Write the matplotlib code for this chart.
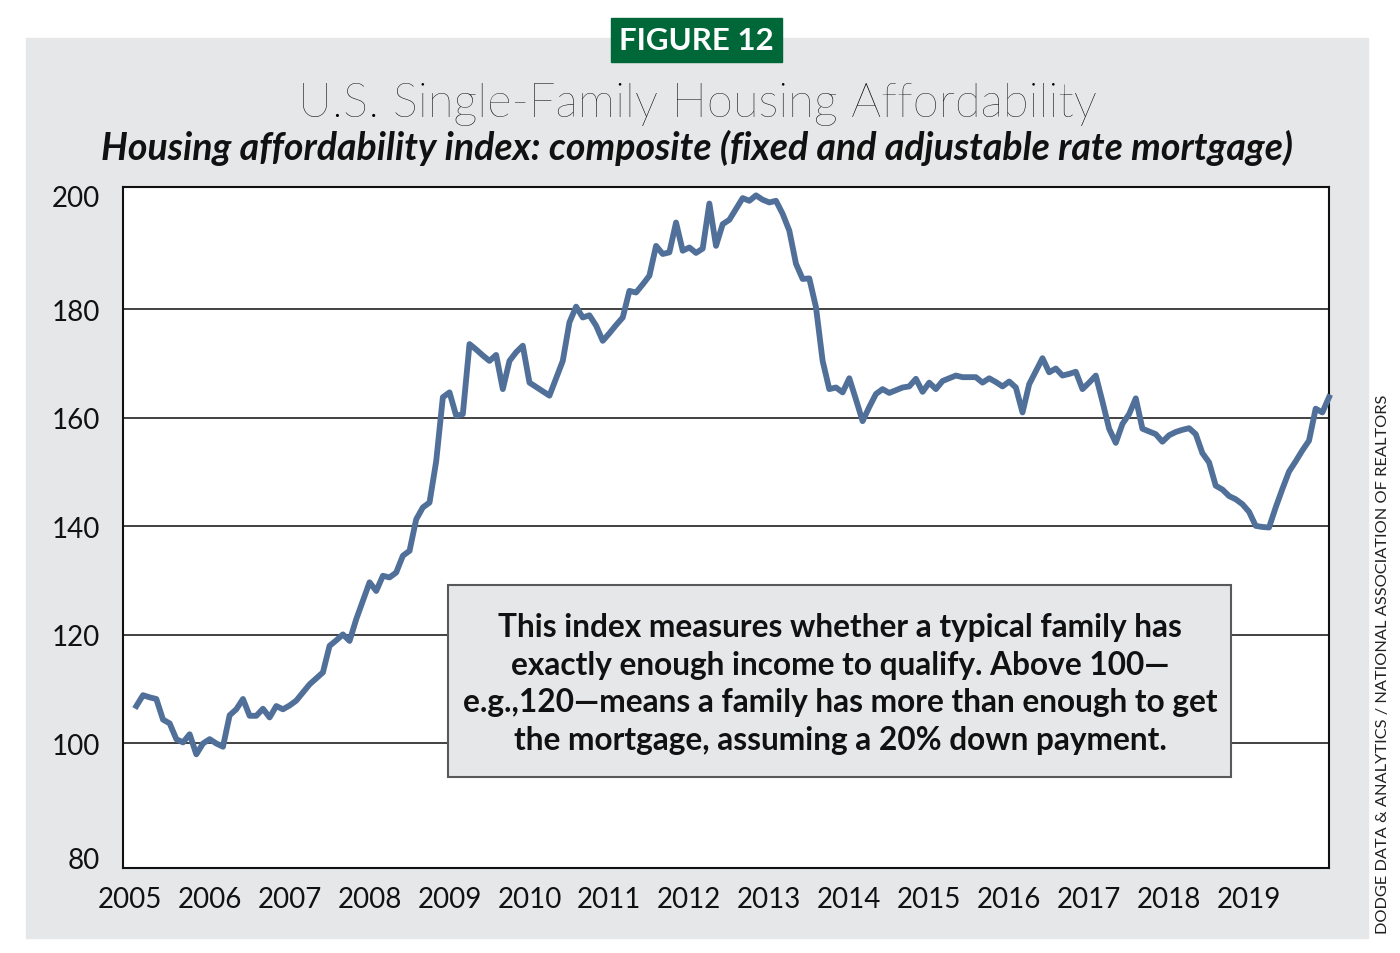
import matplotlib.pyplot as plt
import numpy as np
from matplotlib.patches import Rectangle
from matplotlib.transforms import ScaledTranslation

plt.rcParams['font.family'] = ['Lato', 'DejaVu Sans']

# housing affordability index, monthly Jan 2005 - Dec 2019
hai = [
    106.9, 108.9, 108.5, 108.2, 104.4, 103.7, 100.8, 100.2, 101.7, 98.0, 100.0, 100.8,
    100.0, 99.4, 105.2, 106.3, 108.2, 105.1, 105.1, 106.4, 104.8, 106.9, 106.3, 107.0,
    107.9, 109.4, 110.9, 112.0, 113.1, 118.0, 119.0, 120.1, 118.9, 122.9, 126.3, 129.7,
    128.1, 130.9, 130.6, 131.5, 134.6, 135.5, 141.3, 143.5, 144.4, 152.0, 163.8, 164.7,
    160.4, 160.7, 173.6, 172.6, 171.5, 170.5, 171.6, 165.3, 170.5, 172.1, 173.3, 166.5,
    165.7, 164.9, 164.1, 167.3, 170.5, 177.6, 180.5, 178.5, 178.9, 177.0, 174.2, 175.6,
    177.1, 178.5, 183.4, 183.1, 184.6, 186.2, 191.7, 190.2, 190.5, 196.0, 190.8, 191.4,
    190.4, 191.2, 199.5, 191.7, 195.7, 196.5, 198.5, 200.5, 200.0, 201.0, 200.2, 199.7,
    200.0, 197.6, 194.5, 188.4, 185.6, 185.7, 180.4, 170.5, 165.3, 165.6, 164.7, 167.3,
    163.4, 159.4, 162.0, 164.4, 165.3, 164.6, 165.1, 165.6, 165.8, 167.2, 164.8, 166.5,
    165.3, 166.8, 167.3, 167.8, 167.5, 167.5, 167.5, 166.5, 167.3, 166.6, 165.8, 166.7,
    165.6, 161.0, 166.2, 168.6, 171.0, 168.4, 169.1, 167.8, 168.1, 168.5, 165.3, 166.5,
    167.8, 163.0, 158.0, 155.4, 158.9, 160.7, 163.6, 158.0, 157.5, 157.0, 155.6, 156.8,
    157.4, 157.8, 158.1, 157.0, 153.5, 151.8, 147.5, 146.8, 145.6, 145.0, 144.1, 142.7,
    140.1, 139.9, 139.8, 143.5, 146.9, 150.1, 152.0, 154.0, 155.8, 161.7, 161.0, 163.8,
]
years = list(range(2005, 2020))
y_ticks = [80, 100, 120, 140, 160, 180, 200]
grid_levels = [100, 120, 140, 160, 180]

title = "U.S. Single-Family Housing Affordability"
subtitle = "Housing affordability index: composite (fixed and adjustable rate mortgage)"
note = ("This index measures whether a typical family has\n"
        "exactly enough income to qualify. Above 100\u2014\n"
        "e.g.,120\u2014means a family has more than enough to get\n"
        "the mortgage, assuming a 20% down payment.")
source = "DODGE DATA & ANALYTICS / NATIONAL ASSOCIATION OF REALTORS"

W, H = 1400, 954
fig = plt.figure(figsize=(W / 100, H / 100), dpi=100)

# gray panel + green badge (behind the axes)
fig.patches.append(Rectangle((26 / W, 1 - 939 / H), 1342 / W, 900 / H,
                             transform=fig.transFigure, color='#e6e7e8', zorder=-10))
fig.patches.append(Rectangle((611 / W, 1 - 63 / H), 171 / W, 44 / H,
                             transform=fig.transFigure, color='#006838', zorder=-5))
fig.text(696.5 / W, 1 - 41 / H, "FIGURE 12", color='white', fontsize=22.5,
         fontweight='bold', ha='center', va='center')

fig.text(697 / W, 1 - 105 / H, title, fontsize=34, fontweight='light',
         ha='center', va='center', color='black')
fig.text(697 / W, 1 - 148 / H, subtitle, fontsize=27, fontweight='bold',
         style='italic', ha='center', va='center', color='#111111')

ax = fig.add_axes([123.3 / W, 1 - 869.3 / H, 1205.7 / W, 681.6 / H])
ax.set_facecolor('white')
x = 2005 + np.arange(1, len(hai) + 1) / 12
ax.plot(x, hai, color='#50709a', lw=4.2, solid_joinstyle='round', zorder=3, clip_on=False)
for g in grid_levels:
    ax.axhline(g, color='#333333', lw=1.3, zorder=1)

ax.set_xlim(2004.92, 2020.0)
ax.set_ylim(77.0, 202.6)
ax.set_xticks(years)
ax.set_yticks(y_ticks)
ax.tick_params(length=0, labelsize=20, colors='#111111')
ax.tick_params(axis='y', pad=17)
ax.tick_params(axis='x', pad=13)
for s in ax.spines.values():
    s.set_color('#111111')
    s.set_linewidth(1.5)

# the end labels sit a little off their values in the original
yt = ax.yaxis.get_major_ticks()
yt[-1].label1.set_transform(yt[-1].label1.get_transform()
                            + ScaledTranslation(0, 0.05, fig.dpi_scale_trans))
yt[0].label1.set_transform(yt[0].label1.get_transform()
                           + ScaledTranslation(0, -0.05, fig.dpi_scale_trans))

# note box
fig.patches.append(Rectangle((448 / W, 1 - 778 / H), 783 / W, 192 / H,
                             transform=fig.transFigure, facecolor='#e6e7e8',
                             edgecolor='#58595b', lw=1.5, zorder=5))
fig.text(840 / W, 1 - 684 / H, note, fontsize=22.8, fontweight='bold', ha='center',
         va='center', linespacing=1.35, color='#111111', zorder=6)

fig.text(1383 / W, 1 - 664 / H, source, rotation=90, fontsize=11.8,
         ha='center', va='center', color='#222222')

plt.savefig('out.png', dpi=100)
